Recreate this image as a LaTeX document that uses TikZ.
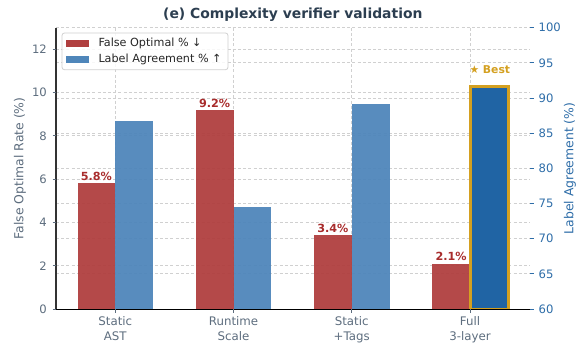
\documentclass[tikz,border=0pt]{standalone}
\usepackage{fontspec}
\setmainfont{DejaVu Sans}
\definecolor{barred}{HTML}{B03F3F}
\definecolor{barblue}{HTML}{4F86BA}
\definecolor{bestblue}{HTML}{2064A4}
\definecolor{goldc}{HTML}{D4A020}
\definecolor{titlec}{HTML}{2C3E50}
\definecolor{grayt}{HTML}{5D6D7E}
\definecolor{bluet}{HTML}{2E6DA8}
\definecolor{gridc}{HTML}{D0D0D0}
\definecolor{labred}{HTML}{A82C2C}
\definecolor{spinec}{HTML}{333333}
\begin{document}
\begin{tikzpicture}[x=1pt,y=-1pt,
  gridline/.style={draw=gridc, line width=0.8pt, dash pattern=on 3pt off 2.2pt},
  redbar/.style={fill=barred, fill opacity=0.95},
  bluebar/.style={fill=barblue, fill opacity=0.95},
  ticklab/.style={inner sep=0pt, font=\fontsize{11.6}{13}\selectfont},
  xlab/.style={inner sep=0pt, align=center, text=grayt, font=\fontsize{11.8}{14.4}\selectfont},
  vallab/.style={inner sep=0pt, text=labred, font=\fontsize{11.2}{13}\selectfont\bfseries},
  axlab/.style={inner sep=0pt, rotate=90, font=\fontsize{12.4}{14}\selectfont},
  legtext/.style={inner sep=0pt, anchor=west, text=black!85, font=\fontsize{11.2}{13}\selectfont}]
\useasboundingbox (0,0) rectangle (585,349);

% grid
\foreach \v in {0,2,...,12}
  \draw[gridline] (56,{309-21.64*\v}) -- (530,{309-21.64*\v});
\foreach \r in {60,65,...,100}
  \draw[gridline] (56,{309-7.033*(\r-60)}) -- (530,{309-7.033*(\r-60)});
\foreach \c in {115.3,233.5,351.7,470}
  \draw[gridline] (\c,27.7) -- (\c,309);

% bars
\foreach \c/\f/\a/\i in {115.3/5.8/86.8/1, 233.5/9.2/74.5/2, 351.7/3.4/89.2/3}{
  \fill[redbar] ({\c-37.8},309) rectangle (\c,{309-21.64*\f});
  \fill[bluebar] (\c,309) rectangle ({\c+37.8},{309-7.033*(\a-60)});
  \node[vallab, anchor=base] (val\i) at ({\c-18.9},{309-21.64*\f-2.8}) {\f\%};
}
\fill[redbar] ({470-37.8},309) rectangle (470,{309-21.64*2.1});
\node[vallab, anchor=base] (val4) at ({470-18.9},{309-21.64*2.1-2.8}) {2.1\%};
\filldraw[fill=bestblue, draw=goldc, line width=2.6pt] (470.6,309) rectangle (508.2,{309-7.033*(91.6-60)});
\node[inner sep=0pt, anchor=base, text=goldc, font=\fontsize{10.8}{12}\selectfont\bfseries] (best) at (489.8,73.3) {★ Best};

% spines
\draw[spinec, line width=1.3pt] (56,27.7) -- (56,309.5);
\draw[black, line width=1pt] (55.4,309) -- (530,309);

% left ticks
\foreach \v in {0,2,...,12}{
  \draw[grayt, line width=0.8pt] (52.5,{309-21.64*\v}) -- (56,{309-21.64*\v});
  \node[ticklab, anchor=east, text=grayt] (lt\v) at (47,{309-21.64*\v}) {\v};
}
% right ticks
\foreach \r in {60,65,...,100}{
  \draw[bluet, line width=0.8pt] (530,{309-7.033*(\r-60)}) -- (533.5,{309-7.033*(\r-60)});
  \node[ticklab, anchor=west, text=bluet] (rt\r) at (538.5,{309-7.033*(\r-60)}) {\r};
}
% x ticks
\foreach \c/\t/\i in {115.3/{Static\\AST}/1, 233.5/{Runtime\\Scale}/2, 351.7/{Static\\+Tags}/3, 470/{Full\\3-layer}/4}{
  \draw[grayt, line width=0.8pt] (\c,309) -- (\c,312.5);
  \node[xlab, anchor=north] (xl\i) at (\c,316.5) {\t};
}

% axis labels
\node[axlab, text=grayt] (ylab) at (20,168.4) {False Optimal Rate (\%)};
\node[axlab, text=bluet] (y2lab) at (570,168.4) {Label Agreement (\%)};

% title
\node[inner sep=0pt, anchor=base, text=titlec, font=\fontsize{13.9}{16}\selectfont\bfseries] (title) at (292.8,18) {(e) Complexity verifier validation};

% legend
\filldraw[draw=gridc, fill=white, fill opacity=0.85, line width=0.8pt, rounded corners=2.5pt] (62,33) rectangle (228,69.7);
\fill[barred] (66,39.7) rectangle (88.7,47);
\fill[barblue] (66,55.5) rectangle (88.7,62.8);
\node[legtext] (leg1) at (98.3,43.4) {False Optimal \% ↓};
\node[legtext] (leg2) at (98.3,59.2) {Label Agreement \% ↑};
\end{tikzpicture}
\end{document}
